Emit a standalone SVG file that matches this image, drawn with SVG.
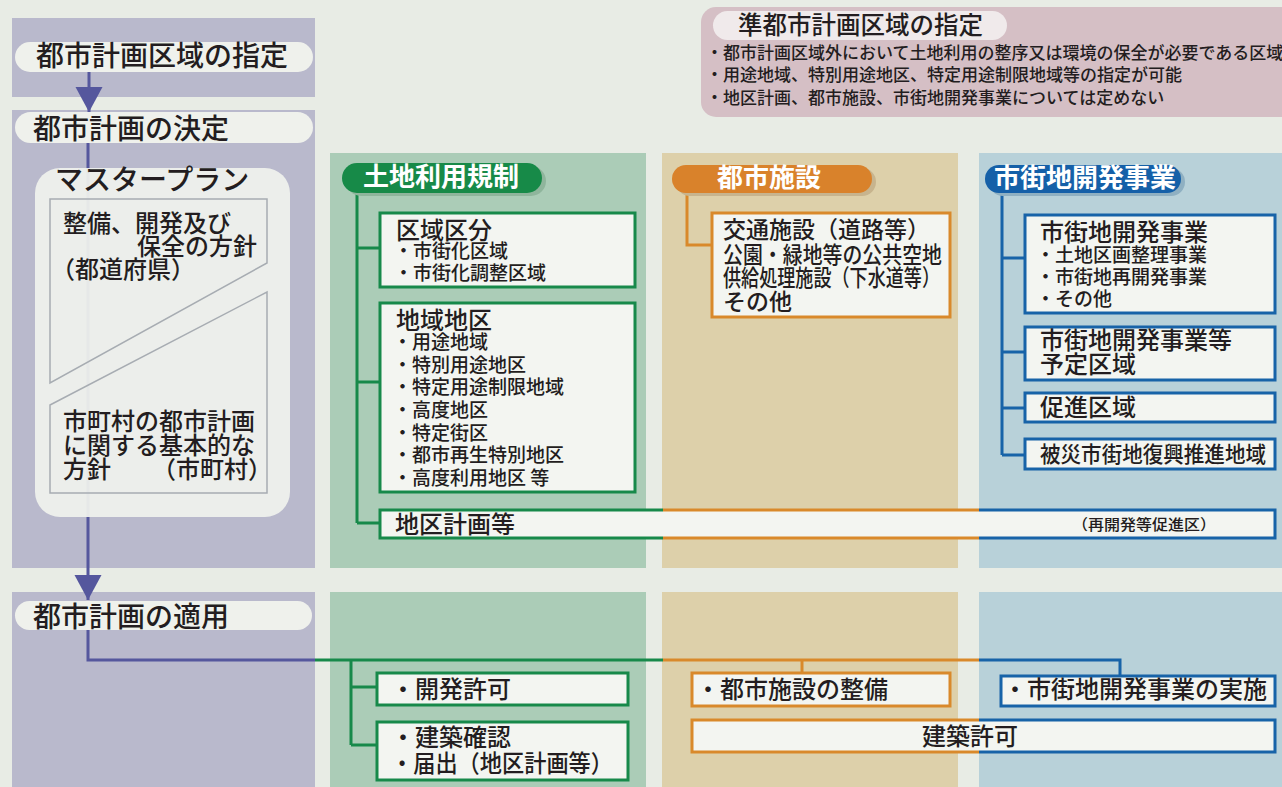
<svg xmlns="http://www.w3.org/2000/svg" width="1282" height="787" viewBox="0 0 1282 787">
<defs>
<style>
.t{font-family:"Noto Sans CJK JP","Noto Sans CJK SC",sans-serif;fill:#231d20;font-weight:500;}
.wt{font-family:"Noto Sans CJK JP","Noto Sans CJK SC",sans-serif;fill:#ffffff;font-weight:bold;font-size:26px;}
.f28{font-size:28px;}
.f24{font-size:24px;}
.f23{font-size:23px;}
.f19{font-size:19px;}
.f17{font-size:17px;}
.pill{fill:#eff1ec;}
.box{fill:#f3f5f1;}
.g{stroke:#17894a;}
.o{stroke:#d9892b;}
.b{stroke:#1763a8;}
.p{stroke:#55579d;}
.ln{fill:none;stroke-width:3;}
.bx{fill:#f3f5f1;stroke-width:3;}
.mp{fill:none;stroke:#a7acb2;stroke-width:1.5;}
</style>
<marker id="arrowP" viewBox="0 -14 25 28" refX="25" refY="0" markerWidth="25" markerHeight="28" markerUnits="userSpaceOnUse" orient="auto">
<path d="M0,-13.5 L25,0 L0,13.5 z" fill="#55579d"/>
</marker>
</defs>
<rect x="0" y="0" width="1282" height="787" fill="#e8ece5"/>
<g id="panels">
<rect x="12" y="18" width="303" height="79" fill="#b9b9cc"/>
<rect x="12" y="110" width="303" height="458" fill="#b9b9cc"/>
<rect x="12" y="592" width="303" height="195" fill="#b9b9cc"/>
<rect x="330" y="153" width="316" height="415" fill="#abccb7"/>
<rect x="330" y="592" width="316" height="195" fill="#abccb7"/>
<rect x="662" y="153" width="296" height="415" fill="#ddd0aa"/>
<rect x="662" y="592" width="296" height="195" fill="#ddd0aa"/>
<rect x="979" y="153" width="303" height="415" fill="#b8d1d9"/>
<rect x="979" y="592" width="303" height="195" fill="#b8d1d9"/>
</g>
<g id="quasi-area">
<rect x="701" y="7" width="600" height="110" rx="15" fill="#d5bfc5"/>
<rect x="713" y="11" width="294" height="29" rx="14.5" fill="#f0eaeb"/>
<text class="t" x="738" y="34" font-size="24.5">準都市計画区域の指定</text>
<text class="t f17" x="706" y="59">・都市計画区域外において土地利用の整序又は環境の保全が必要である区域</text>
<text class="t f17" x="706" y="81">・用途地域、特別用途地区、特定用途制限地域等の指定が可能</text>
<text class="t f17" x="706" y="104">・地区計画、都市施設、市街地開発事業については定めない</text>
</g>
<g id="step-designation">
<rect class="pill" x="15" y="42" width="298" height="30" rx="15"/>
<text class="t f28" x="36" y="66">都市計画区域の指定</text>
</g>
<g id="step-decision">
<rect class="pill" x="15" y="112" width="298" height="31" rx="15.5"/>
<text class="t f28" x="33" y="139">都市計画の決定</text>
</g>
<g id="step-application">
<rect class="pill" x="15" y="601" width="297" height="29" rx="14.5"/>
<text class="t f28" x="33" y="627">都市計画の適用</text>
</g>
<g id="connectors">
<path class="ln p" d="M89,72 V112" marker-end="url(#arrowP)"/>
<path class="ln p" d="M88,143 V600" marker-end="url(#arrowP)"/>
<path class="ln p" d="M88,630 V660 H315"/>
<path class="ln g" d="M315,660 H663 M351,660 V745 M351,687 H377 M351,745 H377"/>
<path class="ln o" d="M663,660 H979 M802,660 V673"/>
<path class="ln b" d="M979,660 H1120 V676"/>
<path class="ln g" d="M357,193 V523 M357,248 H380 M357,382 H380 M357,523 H380"/>
<path class="ln o" d="M687,193 V245 H712"/>
<path class="ln b" d="M1002,193 V455 M1002,258 H1025 M1002,352 H1025 M1002,408 H1025 M1002,455 H1025"/>
</g>
<g id="master-plan">
<rect x="35" y="168" width="255" height="349" rx="25" fill="#eef0ec" opacity="0.95"/>
<text class="t f28" x="55" y="190">マスタープラン</text>
<path class="mp" d="M50,199 H267 V263 L50,383 Z"/>
<path class="mp" d="M50,405 L267,292 V493 H50 Z"/>
<text class="t f24" x="63" y="232">整備、開発及び</text>
<text class="t f24" x="137" y="255">保全の方針</text>
<text class="t f24" x="51" y="278">（都道府県）</text>
<text class="t f24" x="63" y="430">市町村の都市計画</text>
<text class="t f24" x="63" y="454">に関する基本的な</text>
<text class="t f24" x="63" y="478">方針<tspan x="152">（市町村）</tspan></text>
</g>
<g id="land-use">
<rect x="346" y="166" width="200" height="30" rx="15" fill="#8fb59c"/>
<rect x="342" y="163" width="200" height="30" rx="15" fill="#178a48"/>
<text class="wt" x="363" y="186">土地利用規制</text>
</g>
<g id="area-division">
<rect class="bx g" x="380" y="213" width="255" height="74"/>
<text class="t f24" x="396" y="239">区域区分</text>
<text class="t f19" x="394" y="258">・市街化区域</text>
<text class="t f19" x="394" y="280">・市街化調整区域</text>
</g>
<g id="zoning">
<rect class="bx g" x="380" y="303" width="255" height="189"/>
<text class="t f24" x="396" y="329">地域地区</text>
<text class="t f19" x="393" y="349">・用途地域</text>
<text class="t f19" x="393" y="372">・特別用途地区</text>
<text class="t f19" x="393" y="394">・特定用途制限地域</text>
<text class="t f19" x="393" y="417">・高度地区</text>
<text class="t f19" x="393" y="440">・特定街区</text>
<text class="t f19" x="393" y="462">・都市再生特別地区</text>
<text class="t f19" x="393" y="485">・高度利用地区 等</text>
</g>
<g id="district-plan">
<rect class="box" x="380" y="510" width="895" height="28"/>
<path class="ln g" d="M663,510 H380 V538 H663"/>
<path class="ln o" d="M663,510 H979 M663,538 H979"/>
<path class="ln b" d="M979,510 H1275 V538 H979"/>
<text class="t f24" x="395" y="533">地区計画等</text>
<text class="t" x="1072" y="530" font-size="15" textLength="144" lengthAdjust="spacingAndGlyphs">（再開発等促進区）</text>
</g>
<g id="urban-facilities">
<rect x="676" y="168" width="200" height="28" rx="14" fill="#c7b48e"/>
<rect x="672" y="165" width="200" height="28" rx="14" fill="#d9822b"/>
<text class="wt" x="717" y="187">都市施設</text>
</g>
<g id="facility-list">
<rect class="bx o" x="712" y="213" width="238" height="104"/>
<text class="t f23" x="723" y="238">交通施設（道路等）</text>
<text class="t f23" x="723" y="263" textLength="219" lengthAdjust="spacingAndGlyphs">公園・緑地等の公共空地</text>
<text class="t f23" x="723" y="286" textLength="217" lengthAdjust="spacingAndGlyphs">供給処理施設（下水道等）</text>
<text class="t f23" x="723" y="310">その他</text>
</g>
<g id="urban-development">
<rect x="989" y="168" width="196" height="28" rx="14" fill="#8fb0c2"/>
<rect x="985" y="165" width="196" height="28" rx="14" fill="#1560a8"/>
<text class="wt" x="994" y="187">市街地開発事業</text>
</g>
<g id="dev-projects">
<rect class="bx b" x="1025" y="215" width="250" height="98"/>
<text class="t f24" x="1040" y="241">市街地開発事業</text>
<text class="t f19" x="1036" y="262">・土地区画整理事業</text>
<text class="t f19" x="1036" y="284">・市街地再開発事業</text>
<text class="t f19" x="1036" y="306">・その他</text>
</g>
<g id="dev-planned">
<rect class="bx b" x="1025" y="327" width="250" height="53"/>
<text class="t f24" x="1040" y="349">市街地開発事業等</text>
<text class="t f24" x="1040" y="373">予定区域</text>
</g>
<g id="promotion">
<rect class="bx b" x="1025" y="393" width="250" height="29"/>
<text class="t f24" x="1040" y="416">促進区域</text>
</g>
<g id="disaster">
<rect class="bx b" x="1025" y="439" width="250" height="30"/>
<text class="t" x="1040" y="462" font-size="22" textLength="226" lengthAdjust="spacingAndGlyphs">被災市街地復興推進地域</text>
</g>
<g id="dev-permit">
<rect class="bx g" x="377" y="673" width="251" height="32"/>
<text class="t f24" x="391" y="698">・開発許可</text>
</g>
<g id="building-confirm">
<rect class="bx g" x="377" y="722" width="251" height="58"/>
<text class="t f24" x="391" y="746">・建築確認</text>
<text class="t f24" x="391" y="772" textLength="222" lengthAdjust="spacingAndGlyphs">・届出（地区計画等）</text>
</g>
<g id="facility-dev">
<rect class="bx o" x="692" y="673" width="258" height="33"/>
<text class="t f24" x="696" y="698">・都市施設の整備</text>
</g>
<g id="project-impl">
<rect class="bx b" x="1001" y="676" width="274" height="30"/>
<text class="t f24" x="1003" y="698">・市街地開発事業の実施</text>
</g>
<g id="building-permit">
<rect class="box" x="692" y="720" width="583" height="32"/>
<path class="ln o" d="M979,720 H692 V752 H979"/>
<path class="ln b" d="M979,720 H1275 V752 H979"/>
<text class="t f24" x="922" y="745">建築許可</text>
</g>
</svg>
